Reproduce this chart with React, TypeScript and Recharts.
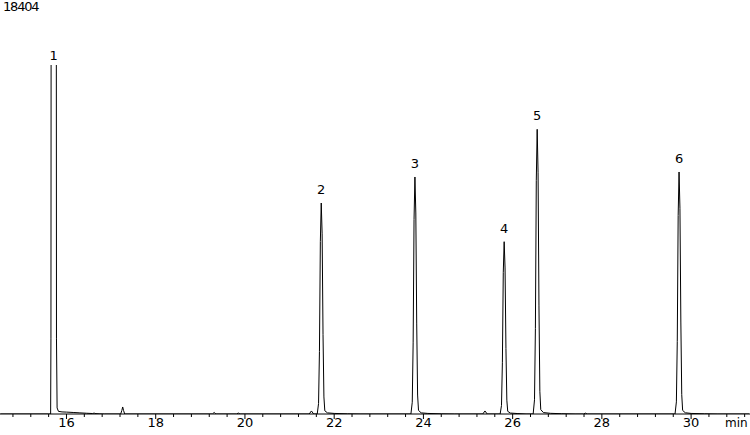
import React from 'react';
import { LineChart, Line, XAxis, YAxis } from 'recharts';

// Chromatogram trace (time in min, detector signal)
const traceTime = [
  14.52, 15.6, 15.645, 15.652, 15.66, 15.715, 15.768, 15.776, 15.79, 15.82, 15.9, 16.0, 16.15, 16.3, 16.45, 16.58, 16.62, 16.66, 16.75, 16.85,
  17.215, 17.24, 17.26, 17.28, 17.305,
  19.27, 19.31, 19.35, 19.81, 19.85, 19.89,
  21.44, 21.49, 21.54,
  21.62, 21.65, 21.67, 21.69, 21.71, 21.73, 21.75, 21.77, 21.79, 21.85, 22.0, 22.3, 22.6,
  23.72, 23.75, 23.77, 23.79, 23.81, 23.83, 23.85, 23.87, 23.89, 23.95, 24.1, 24.4, 24.7,
  25.33, 25.38, 25.43,
  25.72, 25.75, 25.77, 25.79, 25.81, 25.83, 25.85, 25.87, 25.89, 25.95, 26.1, 26.3,
  26.46, 26.49, 26.51, 26.53, 26.55, 26.57, 26.59, 26.61, 26.63, 26.69, 26.85, 27.1, 27.4,
  27.59, 27.63, 27.67,
  29.64, 29.67, 29.69, 29.71, 29.73, 29.75, 29.77, 29.79, 29.81, 29.87, 30.0, 30.3, 30.6, 31.3,
];
const traceSignal = [
  0, 0, 0, 4000, 40000, 60000, 40000, 4000, 320, 140, 110, 100, 80, 60, 40, 25, 45, 20, 5, 0,
  0, 180, 370, 180, 0,
  0, 80, 0, 0, 50, 0,
  0, 160, 0,
  0, 550, 3300, 9100, 11126, 9500, 4200, 900, 170, 60, 30, 10, 0,
  0, 620, 3750, 10250, 12498, 10600, 4750, 1000, 190, 60, 30, 10, 0,
  0, 160, 0,
  0, 450, 2700, 7450, 9086, 7700, 3450, 730, 140, 50, 25, 0,
  0, 750, 4500, 12300, 15013, 12750, 5700, 1200, 230, 75, 35, 15, 0,
  0, 45, 0,
  0, 640, 3830, 10460, 12762, 10850, 4850, 1020, 190, 65, 30, 10, 0, 0,
];

const fullScale = 18404;
const peakNames = ['1', '2', '3', '4', '5', '6'];
const peakTimes = [15.715, 21.71, 23.81, 25.81, 26.55, 29.73];
const peakLabelLevels = [18190, 11126, 12498, 9086, 15013, 12762];

const axisTicks = [
  14.8, 15.2, 15.6, 16, 16.4, 16.8, 17.2, 17.6, 18, 18.4, 18.8, 19.2, 19.6, 20, 20.4, 20.8, 21.2, 21.6,
  22, 22.4, 22.8, 23.2, 23.6, 24, 24.4, 24.8, 25.2, 25.6, 26, 26.4, 26.8, 27.2, 27.6, 28, 28.4, 28.8,
  29.2, 29.6, 30, 30.4, 30.8, 31.2,
];
const labelledTicks = [16, 18, 20, 22, 24, 26, 28, 30];
const xDomain = [14.51, 31.32];

const traceData = traceTime.map((t, i) => ({ t, v: traceSignal[i] }));
const labelData = peakTimes.map((t, i) => ({ t, v: peakLabelLevels[i], name: peakNames[i] }));

const FONT = '"DejaVu Sans", Verdana, sans-serif';

function Tick(props: any) {
  const { x, y, payload } = props;
  const v = payload.value;
  const major = labelledTicks.some((m) => Math.abs(m - v) < 1e-6);
  return (
    <g>
      <line x1={x} x2={x} y1={y} y2={y + (major ? 5 : 3)} stroke="#000" strokeWidth={1} />
      {major && (
        <text x={x} y={y + 13} textAnchor="middle" fontSize={13} fontFamily={FONT} fill="#000">
          {v}
        </text>
      )}
    </g>
  );
}

function PeakLabel(props: any) {
  const { cx, cy, payload, index } = props;
  return (
    <text key={`pl-${index}`} x={cx} y={cy - 9} textAnchor="middle" fontSize={13} fontFamily={FONT} fill="#000">
      {payload.name}
    </text>
  );
}

export default function App() {
  return (
    <div style={{ position: 'absolute', left: 0, top: 0, width: 750, height: 435, background: '#fff' }}>
      <LineChart width={750} height={435} margin={{ top: 65, right: 0, bottom: 0, left: 0 }}>
        <XAxis
          dataKey="t"
          type="number"
          domain={xDomain}
          ticks={axisTicks}
          interval={0}
          tickLine={false}
          tickSize={0}
          tickMargin={0}
          tick={<Tick />}
          axisLine={{ stroke: '#000' }}
          height={21}
        />
        <YAxis yAxisId="sig" type="number" domain={[0, fullScale]} hide allowDataOverflow />
        <YAxis yAxisId="lab" type="number" domain={[0, fullScale]} hide />
        <Line
          yAxisId="sig"
          data={traceData}
          dataKey="v"
          type="linear"
          stroke="#000"
          strokeWidth={1}
          dot={false}
          activeDot={false}
          isAnimationActive={false}
        />
        <Line
          yAxisId="lab"
          data={labelData}
          dataKey="v"
          stroke="none"
          dot={PeakLabel}
          activeDot={false}
          isAnimationActive={false}
        />
      </LineChart>
      <svg width={750} height={435} style={{ position: 'absolute', left: 0, top: 0, pointerEvents: 'none' }}>
        <text x={3} y={11} fontSize={13} fontFamily={FONT} fill="#000" style={{ letterSpacing: '-1.2px' }}>
          {fullScale}
        </text>
        <text x={725} y={427} fontSize={12} fontFamily={FONT} fill="#000">
          min
        </text>
      </svg>
    </div>
  );
}
